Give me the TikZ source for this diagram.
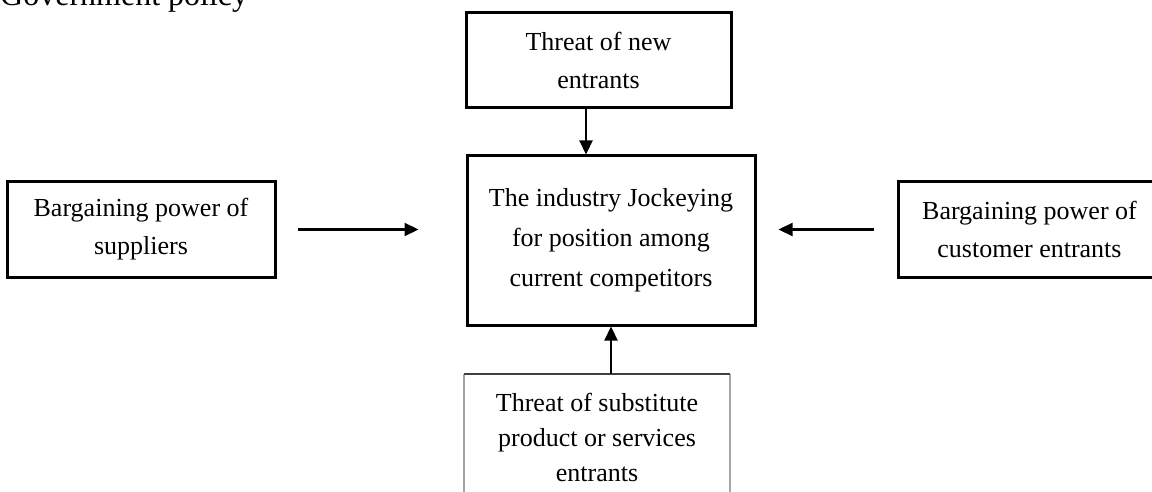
\documentclass[tikz,border=0pt]{standalone}
\usepackage{fontspec}
\setmainfont{Liberation Serif}
\usetikzlibrary{arrows.meta,calc}
\begin{document}
\begin{tikzpicture}[x=1pt,y=-1pt,
  box/.style={draw, line width=3pt, align=center, inner sep=0pt,
    font=\fontsize{26}{38}\selectfont},
  arr/.style={line width=2.2pt, -{Triangle[length=14pt,width=13pt]}},
  subtop/.style={line width=2pt, draw=black!75},
  subside/.style={line width=2pt, draw=black!35}]
\useasboundingbox (0,0) rectangle (1152,492);
\clip (0,0) rectangle (1152,492);

% heading, partly above the frame
\node (gov) [anchor=base west, inner sep=0pt, font=\fontsize{32}{38}\selectfont]
  at (0,6) {Government policy};

% the five forces
\node (entr) [box, minimum width=265, minimum height=95] at (598.5,60.5)
  {Threat of new\\entrants};
\node (core) [box, minimum width=288, minimum height=169,
  font=\fontsize{26}{40}\selectfont] at (611,240.5)
  {The industry Jockeying\\for position among\\current competitors};
\node (supp) [box, minimum width=268, minimum height=95] at (141,229.5)
  {Bargaining power of\\suppliers};
\node (cust) [box, minimum width=263, minimum height=95] at (1029.5,229.5)
  {Bargaining power of\\customer entrants};
\node (sub) [align=center, inner sep=0pt, minimum width=266, minimum height=126,
  font=\fontsize{26}{35}\selectfont] at (597,437)
  {Threat of substitute\\product or services\\entrants};
\draw[subside] (sub.north west) -- (sub.south west);
\draw[subside] (sub.north east) -- (sub.south east);
\draw[subtop] (sub.north west) -- (sub.north east);

% arrows into the industry box
\draw[arr] ([xshift=-12.5pt]entr.south) -- ([xshift=-12.5pt]entr.south |- core.north);
\draw[arr] (core.south |- sub.north) -- (core.south);
\draw[arr, shorten <=21pt, shorten >=47pt] (supp.east) -- (supp.east -| core.west);
\draw[arr, shorten <=23pt, shorten >=22pt] (cust.west) -- (cust.west -| core.east);
\end{tikzpicture}
\end{document}
